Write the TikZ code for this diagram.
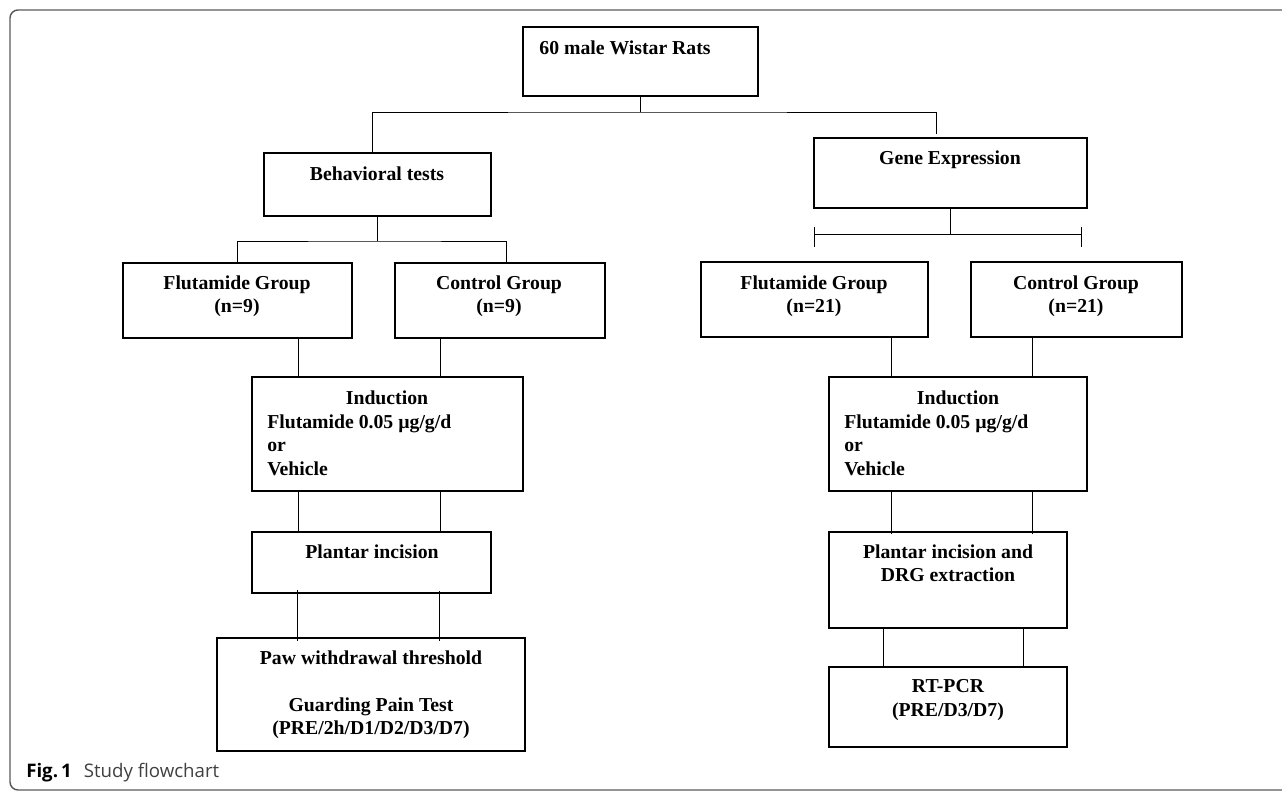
\documentclass[tikz,border=0pt]{standalone}
\usepackage{fontspec}
\setmainfont{Liberation Serif}
\newfontfamily\capfont{Open Sans}
\usetikzlibrary{fit}

\begin{document}
\begin{tikzpicture}[x=0.75pt,y=0.75pt,yscale=-1,xscale=1,
  box/.style={draw, line width=0.8pt, inner sep=0pt, rectangle},
  lbl/.style={inner sep=0pt, align=center, font=\bfseries\fontsize{14.8}{17.5}\selectfont},
  conn/.style={line width=0.6pt},
  frame/.style={draw={rgb,255:red,90;green,90;blue,90}, line width=1.1pt, rounded corners=6pt}]
\useasboundingbox (0,0) rectangle (1282,791);

%Outer frame
\draw [frame] (1300,10) -- (10,10) -- (10,790) -- (1300,790);

%Boxes
\node [box, fit={(523,27) (758,96)}] (rats) {};
\node [box, fit={(264,153) (491,216)}] (beh) {};
\node [box, fit={(814,138) (1087,208)}] (gene) {};
\node [box, fit={(123,263) (352,338)}] (fg9) {};
\node [box, fit={(395,263) (605,338)}] (cg9) {};
\node [box, fit={(701,262) (928,337)}] (fg21) {};
\node [box, fit={(971,262) (1182,337)}] (cg21) {};
\node [box, fit={(252,377) (523,491)}] (ind1) {};
\node [box, fit={(829,377) (1087,491)}] (ind2) {};
\node [box, fit={(252,532) (491,593)}] (pi1) {};
\node [box, fit={(829,532) (1067,628)}] (pi2) {};
\node [box, fit={(217,638) (525,751)}] (paw) {};
\node [box, fit={(829,667) (1067,747)}] (rt) {};

% Text Node
\node [lbl] (ratsT) at (625,48) {60 male Wistar Rats};
% Text Node
\node [lbl] (behT) at (377,174) {Behavioral tests};
% Text Node
\node [lbl] (geneT) at (950,160) {Gene Expression};
% Text Node
\node [lbl] (fg9T) at (237,296.5) {Flutamide Group\\(n=9)};
% Text Node
\node [lbl] (cg9T) at (499,296.5) {Control Group\\(n=9)};
% Text Node
\node [lbl] (fg21T) at (814,296) {Flutamide Group\\(n=21)};
% Text Node
\node [lbl] (cg21T) at (1076,296) {Control Group\\(n=21)};
% Text Node
\node [lbl] (ind1H) at (387,398) {Induction};
\node [lbl, anchor=west, align=left] (ind1B) at (267,445) {Flutamide 0.05 µg/g/d\\or\\Vehicle};
% Text Node
\node [lbl] (ind2H) at (958,398) {Induction};
\node [lbl, anchor=west, align=left] (ind2B) at (844,445) {Flutamide 0.05 µg/g/d\\or\\Vehicle};
% Text Node
\node [lbl] (pi1T) at (372,552) {Plantar incision};
% Text Node
\node [lbl] (pi2T) at (948,563.5) {Plantar incision and\\DRG extraction};
% Text Node
\node [lbl] (pawT) at (371,695) {Paw withdrawal threshold\\\mbox{}\\Guarding Pain Test\\(PRE/2h/D1/D2/D3/D7)};
% Text Node
\node [lbl] (rtT) at (948,700) {RT-PCR\\(PRE/D3/D7)};

%Caption
\node [anchor=west, inner sep=0pt, font=\capfont\fontsize{14}{16}\selectfont] (cap) at (26,773)
  {\textbf{Fig.\,1}\hspace{9pt}{\color[rgb]{0.25,0.25,0.25}Study flowchart}};

%Split: rats
\coordinate (rsplit) at (rats.south |- 0,112);
\coordinate (gtop) at (936,134);
\draw [conn] (rats.south) -- (rsplit);
\draw [conn] (beh.north -| 372,0) |- (rsplit) -| (gtop);

%Split: behavioral tests
\coordinate (bsplit) at (beh.south |- 0,241);
\draw [conn] (beh.south) -- (bsplit);
\draw [conn] (fg9.north) |- (bsplit) -| (cg9.north -| 506,0);

%Split: gene expression
\coordinate (gsplit) at (gene.south |- 0,234);
\coordinate (gl) at (814,234);
\coordinate (gr) at (1081,234);
\draw [conn] (gene.south) -- (gsplit);
\draw [conn] (gl) -- (gr);
\draw [conn] ([yshift=-5pt]gl) -- ([yshift=10pt]gl);
\draw [conn] ([yshift=-5pt]gr) -- ([yshift=10pt]gr);

%Left column links
\draw [conn] (fg9.south -| 298,0) -- (ind1.north -| 298,0);
\draw [conn] (cg9.south -| 440,0) -- ([yshift=1pt]ind1.north -| 440,0);
\draw [conn] ([yshift=-1pt]ind1.south -| 298,0) -- (pi1.north -| 298,0);
\draw [conn] ([yshift=-1pt]ind1.south -| 440,0) -- ([yshift=1pt]pi1.north -| 440,0);
\draw [conn] ([yshift=-3pt]pi1.south -| 297,0) -- ([yshift=3pt]paw.north -| 297,0);
\draw [conn] ([yshift=-2pt]pi1.south -| 439,0) -- ([yshift=3pt]paw.north -| 439,0);

%Right column links
\draw [conn] (fg21.south -| 891,0) -- (ind2.north -| 891,0);
\draw [conn] (cg21.south -| 1032,0) -- (ind2.north -| 1032,0);
\draw [conn] (ind2.south -| 891,0) -- ([yshift=2pt]pi2.north -| 891,0);
\draw [conn] (ind2.south -| 1032,0) -- ([yshift=2pt]pi2.north -| 1032,0);
\draw [conn] (pi2.south -| 883,0) -- (rt.north -| 883,0);
\draw [conn] (pi2.south -| 1023,0) -- (rt.north -| 1023,0);

\end{tikzpicture}
\end{document}
